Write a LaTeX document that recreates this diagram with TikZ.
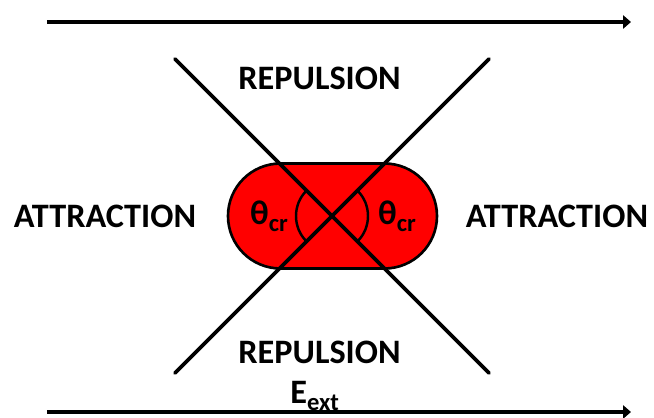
\documentclass[tikz,border=0pt]{standalone}
\usepackage{fontspec}
\setmainfont{Carlito}
\usetikzlibrary{arrows.meta}
\tikzset{
  etichetta/.style={font=\fontsize{19.5}{22}\selectfont\bfseries, inner sep=0pt},
  campo/.style={line width=2pt, -{Triangle[length=4.5pt,width=7.5pt]}},
  retta/.style={line width=2.2pt, line cap=round},
}
\newcommand{\pedice}[1]{\raisebox{-4pt}{\fontsize{14}{14}\selectfont #1}}
\begin{document}
\begin{tikzpicture}[x=0.02cm,y=0.02cm]
        \useasboundingbox (0,0) rectangle (654,417);
        % campo esterno
        \coordinate (sopraA) at (47,395);
        \coordinate (sopraB) at (631,395);
        \coordinate (sottoA) at (47,5);
        \coordinate (sottoB) at (631,5);
        \draw[campo](sopraA)--(sopraB);
        \draw[campo](sottoA)--(sottoB);

        % disegno capsula
        \draw[fill=red, line width=1.5pt](280.5,148.5)--(384.5,148.5) arc (-90:90:52.5)
        --(280.5,253.5) arc (90:270:52.5)--cycle;

        % rette a X
        \coordinate (centro) at (332,201);
        \coordinate (altoSx) at (175,358);
        \coordinate (altoDx) at (489,358);
        \coordinate (bassoSx) at (175,44);
        \coordinate (bassoDx) at (489,44);
        \draw[retta](altoSx)--(bassoDx);
        \draw[retta](altoDx)--(bassoSx);

        % angoli critici
        \draw[line width=1.4pt]([shift={(135:36)}]centro) arc (135:225:36);
        \draw[line width=1.4pt]([shift={(-45:36)}]centro) arc (-45:45:36);
        \node[etichetta] (tetaSx) at (269,201) {θ\pedice{cr}};
        \node[etichetta] (tetaDx) at (397,201) {θ\pedice{cr}};

        % label
        \node[etichetta] (repSopra) at (319.5,339) {REPULSION};
        \node[etichetta] (repSotto) at (319.5,65) {REPULSION};
        \node[etichetta] (attrSx) at (105,201) {ATTRACTION};
        \node[etichetta] (attrDx) at (557,201) {ATTRACTION};
        \node[etichetta, anchor=base west] (eext) at (290,14) {E\pedice{ext}};
    \end{tikzpicture}
\end{document}
